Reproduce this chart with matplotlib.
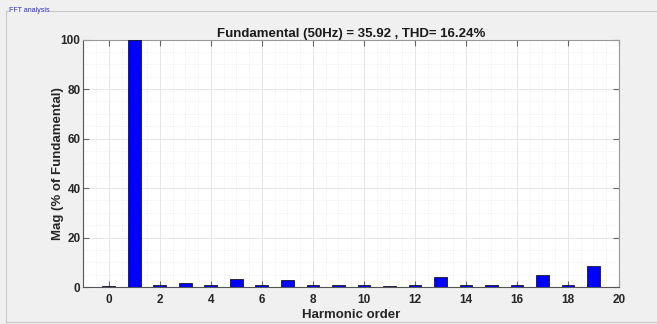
import matplotlib
matplotlib.use("Agg")
import matplotlib.pyplot as plt
from matplotlib.lines import Line2D
from matplotlib.ticker import MultipleLocator

# harmonic spectrum
harmonic_order = list(range(20))
mag_pct = [0.3, 100, 0.8, 1.7, 0.8, 3.3, 0.8, 2.8, 0.8, 0.7,
           0.7, 0.6, 0.7, 4.0, 0.7, 0.9, 0.7, 5.0, 0.7, 8.5]
x_ticks = list(range(0, 21, 2))
y_ticks = [0, 20, 40, 60, 80, 100]
title_txt = "Fundamental (50Hz) = 35.92 , THD= 16.24%"

plt.rcParams['font.family'] = ['Liberation Sans', 'DejaVu Sans']

fig = plt.figure(figsize=(6.57, 3.24), dpi=100)
fig.patch.set_facecolor('#f0f0f0')

# panel frame ("FFT analysis" group box)
fig.add_artist(Line2D([6 / 657, 6 / 657], [1 - 11 / 324, 1 - 322 / 324], color='#c8c8c8', lw=0.8))
fig.add_artist(Line2D([6 / 657, 656 / 657], [1 - 322 / 324, 1 - 322 / 324], color='#c8c8c8', lw=0.8))
fig.add_artist(Line2D([6 / 657, 8 / 657], [1 - 11 / 324, 1 - 11 / 324], color='#c8c8c8', lw=0.8))
fig.add_artist(Line2D([49 / 657, 657 / 657], [1 - 11 / 324, 1 - 11 / 324], color='#c8c8c8', lw=0.8))
fig.text(9 / 657, 1 - 11 / 324, "FFT analysis", fontsize=5, color='#2a2ad0', va='center', ha='left')

ax = fig.add_axes([83.3 / 657, 1 - 287 / 324, (619 - 83.3) / 657, (287 - 39.5) / 324])
ax.set_facecolor('white')
ax.bar(harmonic_order, mag_pct, width=0.5, color='#0000ff', edgecolor='black', linewidth=0.5, zorder=3)

ax.set_xlim(-1, 20)
ax.set_ylim(0, 100)
ax.set_xticks(x_ticks)
ax.set_yticks(y_ticks)
ax.xaxis.set_minor_locator(MultipleLocator(0.5))
ax.yaxis.set_minor_locator(MultipleLocator(5))
ax.grid(True, which='major', color='#e2e2e2', lw=0.6, zorder=0)
ax.grid(True, which='minor', color='#e8e8e8', lw=0.5, ls=':', zorder=0)
ax.set_axisbelow(True)

ax.tick_params(which='major', direction='in', length=4, width=0.8, color='#666666',
               top=True, right=True, labelsize=8.5)
ax.tick_params(axis='x', pad=5)
ax.tick_params(axis='y', pad=2)
ax.tick_params(which='minor', length=0)
for lbl in ax.get_xticklabels() + ax.get_yticklabels():
    lbl.set_fontweight('bold')
    lbl.set_color('#262626')
for side in ['left', 'bottom']:
    ax.spines[side].set_color('#555555')
for side in ['top', 'right']:
    ax.spines[side].set_color('#999999')

ax.set_title(title_txt, fontsize=9.5, fontweight='bold', color='#1a1a1a', pad=2)
ax.set_xlabel("Harmonic order", fontsize=9.5, fontweight='bold', color='#262626', labelpad=2)
ax.set_ylabel("Mag (% of Fundamental)", fontsize=9.5, fontweight='bold', color='#262626', labelpad=-2.5)

fig.savefig("out.png", dpi=100, facecolor=fig.get_facecolor())
